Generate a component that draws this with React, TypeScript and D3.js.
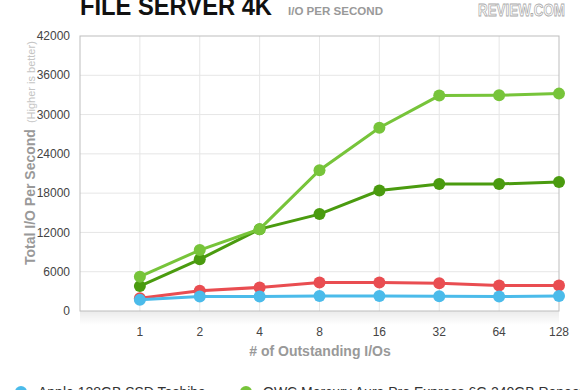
import React, { useEffect, useRef } from 'react';
import * as d3 from 'd3';

const categories = ['1', '2', '4', '8', '16', '32', '64', '128'];
const yTicks = [0, 6000, 12000, 18000, 24000, 30000, 36000, 42000];

const appleToshiba = [1700, 2200, 2200, 2300, 2300, 2250, 2200, 2300];
const otherRed = [1950, 3100, 3600, 4350, 4350, 4250, 3900, 3900];
const owcRepeating = [3800, 7900, 12500, 14800, 18400, 19400, 19400, 19700];
const owcLight = [5250, 9300, 12500, 21500, 28000, 32900, 32950, 33200];

const seriesNames = ['Apple 128GB SSD Toshiba', 'Red series', 'OWC Mercury Aura Pro Express 6G 240GB Repeating', 'OWC light'];

const WIDTH = 580;
const HEIGHT = 390;
const FONT = 'Liberation Sans, Arial, sans-serif';

export default function App() {
  const ref = useRef<SVGSVGElement>(null);

  useEffect(() => {
    const svg = d3.select(ref.current);
    svg.selectAll('*').remove();

    const margin = { top: 36, right: 21, bottom: 79, left: 80 };
    const width = WIDTH - margin.left - margin.right;
    const height = HEIGHT - margin.top - margin.bottom;

    // first slot is left empty, like in the original chart
    const x = d3.scalePoint().domain(['', ...categories]).range([0, width]);
    const y = d3.scaleLinear().domain([0, 42000]).range([height, 0]);

    const defs = svg.append('defs');
    const grad = defs.append('linearGradient').attr('id', 'shade').attr('x1', 0).attr('x2', 0).attr('y1', 0).attr('y2', 1);
    grad.append('stop').attr('offset', '0%').attr('stop-color', '#000').attr('stop-opacity', 0.08);
    grad.append('stop').attr('offset', '100%').attr('stop-color', '#000').attr('stop-opacity', 0);

    // title
    svg.append('text')
      .attr('x', 80).attr('y', 15)
      .attr('textLength', 192).attr('lengthAdjust', 'spacingAndGlyphs')
      .style('font-family', FONT)
      .style('font-weight', 'bold').style('font-size', '25px').attr('fill', '#111')
      .text('FILE SERVER 4K');
    svg.append('text')
      .attr('x', 288).attr('y', 15)
      .attr('textLength', 95).attr('lengthAdjust', 'spacingAndGlyphs')
      .style('font-family', FONT)
      .style('font-weight', 'bold').style('font-size', '11px').attr('fill', '#999')
      .text('I/O PER SECOND');
    svg.append('text')
      .attr('x', 478).attr('y', 16)
      .attr('textLength', 87).attr('lengthAdjust', 'spacingAndGlyphs')
      .style('font-family', FONT)
      .style('font-weight', 'bold').style('font-size', '16px')
      .attr('fill', '#fff').attr('stroke', '#aaa').attr('stroke-width', 0.8)
      .text('REVIEW.COM');

    const g = svg.append('g').attr('transform', `translate(${margin.left},${margin.top})`);

    // shadow under plot
    g.append('rect').attr('x', 0).attr('y', height).attr('width', width).attr('height', 14).attr('fill', 'url(#shade)');

    // grid
    g.append('g').selectAll('line').data(yTicks.slice(1, -1)).join('line')
      .attr('x1', 0).attr('x2', width).attr('y1', d => y(d)).attr('y2', d => y(d))
      .attr('stroke', '#e6e6e6');
    g.append('g').selectAll('line').data(categories.slice(0, -1)).join('line')
      .attr('x1', d => x(d)!).attr('x2', d => x(d)!).attr('y1', 0).attr('y2', height)
      .attr('stroke', '#e6e6e6');
    g.append('rect').attr('x', 0).attr('y', 0).attr('width', width).attr('height', height)
      .attr('fill', 'none').attr('stroke', '#bdbdbd');

    // y tick labels
    g.append('g').selectAll('text').data(yTicks).join('text')
      .attr('x', -10).attr('y', d => y(d)).attr('dy', '0.35em').attr('text-anchor', 'end')
      .style('font-family', FONT).style('font-size', '12px').attr('fill', '#444')
      .text(d => String(d));

    // x tick labels
    g.append('g').selectAll('text').data(categories).join('text')
      .attr('x', d => x(d)!).attr('y', height + 25).attr('text-anchor', 'middle')
      .style('font-family', FONT).style('font-size', '12px').attr('fill', '#444')
      .text(d => d);

    // axis titles
    g.append('text')
      .attr('x', 240).attr('y', height + 45).attr('text-anchor', 'middle')
      .style('font-family', FONT).style('font-weight', 'bold').style('font-size', '14px')
      .attr('fill', '#999').text('# of Outstanding I/Os');
    const yTitle = svg.append('text')
      .attr('transform', 'translate(35,265) rotate(-90)')
      .style('font-family', FONT).attr('fill', '#999');
    yTitle.append('tspan').style('font-weight', 'bold').style('font-size', '14px').text('Total I/O Per Second');
    yTitle.append('tspan').attr('dx', 6).style('font-size', '11px').attr('fill', '#c4c4c4').text('(Higher is better)');

    // series
    const series = [
      { name: seriesNames[1], values: otherRed, color: '#e94d51' },
      { name: seriesNames[0], values: appleToshiba, color: '#4bbbea' },
      { name: seriesNames[2], values: owcRepeating, color: '#4a9b0f' },
      { name: seriesNames[3], values: owcLight, color: '#77c43a' },
    ];
    const line = d3.line<number>().x((_, i) => x(categories[i])!).y(d => y(d));
    series.forEach(s => {
      g.append('path').attr('d', line(s.values)).attr('fill', 'none').attr('stroke', s.color).attr('stroke-width', 3);
      g.append('g').selectAll('circle').data(s.values).join('circle')
        .attr('cx', (_, i) => x(categories[i])!).attr('cy', d => y(d)).attr('r', 6).attr('fill', s.color);
    });

    // legend (partly cut by the bottom edge, as in the original)
    const legend = [
      { name: seriesNames[0], color: '#4bbbea', x: 21 },
      { name: seriesNames[2], color: '#77c43a', x: 246 },
    ];
    const lg = svg.append('g').selectAll('g').data(legend).join('g')
      .attr('transform', d => `translate(${d.x},392)`);
    lg.append('circle').attr('r', 6).attr('fill', d => d.color);
    lg.append('text').attr('x', 17).attr('y', 5)
      .style('font-family', FONT).style('font-size', '14px').attr('fill', '#333')
      .text(d => d.name);
  }, []);

  return (
    <svg ref={ref} width={WIDTH} height={HEIGHT}
      style={{ position: 'absolute', left: 0, top: 0, background: '#fff' }} />
  );
}
